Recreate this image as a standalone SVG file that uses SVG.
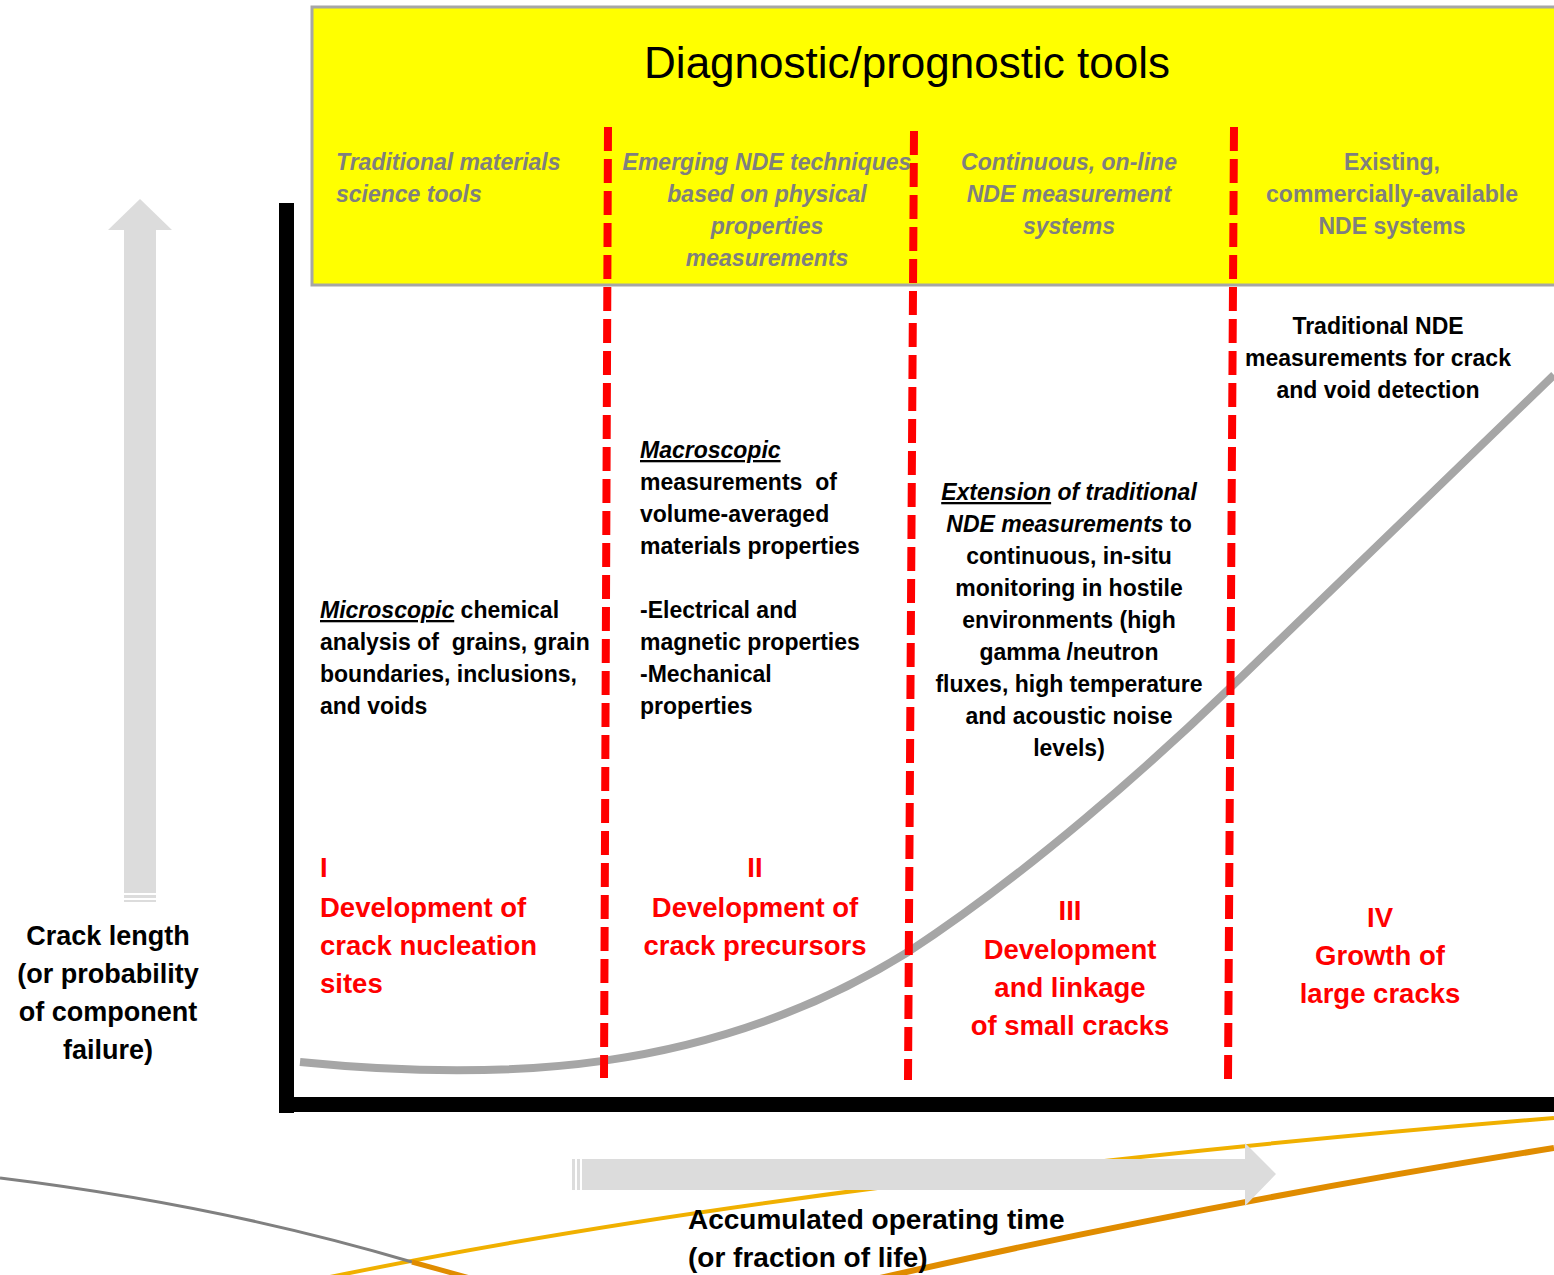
<svg xmlns="http://www.w3.org/2000/svg" width="1554" height="1275" viewBox="0 0 1554 1275">
<style>
text{font-family:"Liberation Sans",Arial,sans-serif;font-weight:bold;white-space:pre}
.hdr{font-size:23px;fill:#7f7f7f;font-style:italic}
.hdru{font-size:23px;fill:#7f7f7f}
.body{font-size:23px;fill:#000}
.red{font-size:27.5px;fill:#ff0000}
.ax{font-size:27px;fill:#000}
.axb{font-size:28px;fill:#000}
.it{font-style:italic}
.ul{font-style:italic;text-decoration:underline}
.mid{text-anchor:middle}
.dash{stroke:#ff0000;stroke-width:8;stroke-dasharray:24 8;fill:none}
.bigarrow{fill:#dcdcdc}
</style>
<rect width="1554" height="1275" fill="#fff"/>

<g id="decor-lines" fill="none">
  <path d="M330,1277 Q800,1180 1554,1118" stroke="#f0b000" stroke-width="4"/>
  <path d="M0,1178 Q220,1205 412,1262" stroke="#808080" stroke-width="3"/>
  <path d="M412,1262 L470,1278" stroke="#e08c00" stroke-width="5"/>
  <path d="M880,1278 Q1200,1205 1554,1148" stroke="#e08c00" stroke-width="6"/>
</g>

<g id="header-box">
  <rect x="312" y="7" width="1260" height="278" fill="#ffff00" stroke="#a6a6a6" stroke-width="3"/>
  <text x="907" y="78" class="mid" style="font-size:44px;font-weight:normal;fill:#000">Diagnostic/prognostic tools</text>
</g>

<g id="axes">
  <rect x="279" y="203" width="15" height="910" fill="#000"/>
  <rect x="279" y="1097" width="1275" height="15" fill="#000"/>
</g>

<g id="y-arrow">
  <polygon class="bigarrow" points="140,199 172,230 156,230 156,893 124,893 124,230 108,230"/>
  <rect class="bigarrow" x="124" y="895" width="32" height="3"/>
  <rect class="bigarrow" x="124" y="900" width="32" height="2"/>
</g>

<g id="x-arrow">
  <polygon class="bigarrow" points="582,1159 1245,1159 1245,1143 1276,1174 1245,1206 1245,1190 582,1190"/>
  <rect class="bigarrow" x="572" y="1159" width="3" height="31"/>
  <rect class="bigarrow" x="577" y="1159" width="3" height="31"/>
</g>

<g id="connectors">
  <path id="growth-curve" d="M300,1062 C500,1082 710,1075 908,952 C1030,872 1150,765 1230,688 L1554,375" fill="none" stroke="#a6a6a6" stroke-width="8"/>
  <line class="dash" x1="608" y1="127" x2="604" y2="1078"/>
  <line class="dash" x1="914" y1="131" x2="908" y2="1080"/>
  <line class="dash" x1="1234" y1="127" x2="1228" y2="1080"/>
</g>

<g id="tool-1">
  <text class="hdr" x="336" y="170">Traditional materials</text>
  <text class="hdr" x="336" y="202">science tools</text>
</g>
<g id="tool-2">
  <text class="hdr mid" x="767" y="170">Emerging NDE techniques</text>
  <text class="hdr mid" x="767" y="202">based on physical</text>
  <text class="hdr mid" x="767" y="234">properties</text>
  <text class="hdr mid" x="767" y="266">measurements</text>
</g>
<g id="tool-3">
  <text class="hdr mid" x="1069" y="170">Continuous, on-line</text>
  <text class="hdr mid" x="1069" y="202">NDE measurement</text>
  <text class="hdr mid" x="1069" y="234">systems</text>
</g>
<g id="tool-4">
  <text class="hdru mid" x="1392" y="170">Existing,</text>
  <text class="hdru mid" x="1392" y="202">commercially-available</text>
  <text class="hdru mid" x="1392" y="234">NDE systems</text>
</g>

<g id="desc-1">
  <text class="body" x="320" y="618"><tspan class="ul">Microscopic</tspan> chemical</text>
  <text class="body" x="320" y="650">analysis of  grains, grain</text>
  <text class="body" x="320" y="682">boundaries, inclusions,</text>
  <text class="body" x="320" y="714">and voids</text>
</g>
<g id="desc-2">
  <text class="body ul" x="640" y="458">Macroscopic</text>
  <text class="body" x="640" y="490">measurements  of</text>
  <text class="body" x="640" y="522">volume-averaged</text>
  <text class="body" x="640" y="554">materials properties</text>
  <text class="body" x="640" y="618">-Electrical and</text>
  <text class="body" x="640" y="650">magnetic properties</text>
  <text class="body" x="640" y="682">-Mechanical</text>
  <text class="body" x="640" y="714">properties</text>
</g>
<g id="desc-3">
  <text class="body mid" x="1069" y="500"><tspan class="ul">Extension</tspan><tspan class="it"> of traditional</tspan></text>
  <text class="body mid" x="1069" y="532"><tspan class="it">NDE measurements</tspan> to</text>
  <text class="body mid" x="1069" y="564">continuous, in-situ</text>
  <text class="body mid" x="1069" y="596">monitoring in hostile</text>
  <text class="body mid" x="1069" y="628">environments (high</text>
  <text class="body mid" x="1069" y="660">gamma /neutron</text>
  <text class="body mid" x="1069" y="692">fluxes, high temperature</text>
  <text class="body mid" x="1069" y="724">and acoustic noise</text>
  <text class="body mid" x="1069" y="756">levels)</text>
</g>
<g id="desc-4">
  <text class="body mid" x="1378" y="334">Traditional NDE</text>
  <text class="body mid" x="1378" y="366">measurements for crack</text>
  <text class="body mid" x="1378" y="398">and void detection</text>
</g>

<g id="stage-1">
  <text class="red" x="320" y="877">I</text>
  <text class="red" x="320" y="917">Development of</text>
  <text class="red" x="320" y="955">crack nucleation</text>
  <text class="red" x="320" y="993">sites</text>
</g>
<g id="stage-2">
  <text class="red mid" x="755" y="877">II</text>
  <text class="red mid" x="755" y="917">Development of</text>
  <text class="red mid" x="755" y="955">crack precursors</text>
</g>
<g id="stage-3">
  <text class="red mid" x="1070" y="920">III</text>
  <text class="red mid" x="1070" y="959">Development</text>
  <text class="red mid" x="1070" y="997">and linkage</text>
  <text class="red mid" x="1070" y="1035">of small cracks</text>
</g>
<g id="stage-4">
  <text class="red mid" x="1380" y="927">IV</text>
  <text class="red mid" x="1380" y="965">Growth of</text>
  <text class="red mid" x="1380" y="1003">large cracks</text>
</g>

<g id="y-label">
  <text class="ax mid" x="108" y="945">Crack length</text>
  <text class="ax mid" x="108" y="983">(or probability</text>
  <text class="ax mid" x="108" y="1021">of component</text>
  <text class="ax mid" x="108" y="1059">failure)</text>
</g>
<g id="x-label">
  <text class="axb" x="688" y="1229">Accumulated operating time</text>
  <text class="axb" x="688" y="1267">(or fraction of life)</text>
</g>
</svg>
